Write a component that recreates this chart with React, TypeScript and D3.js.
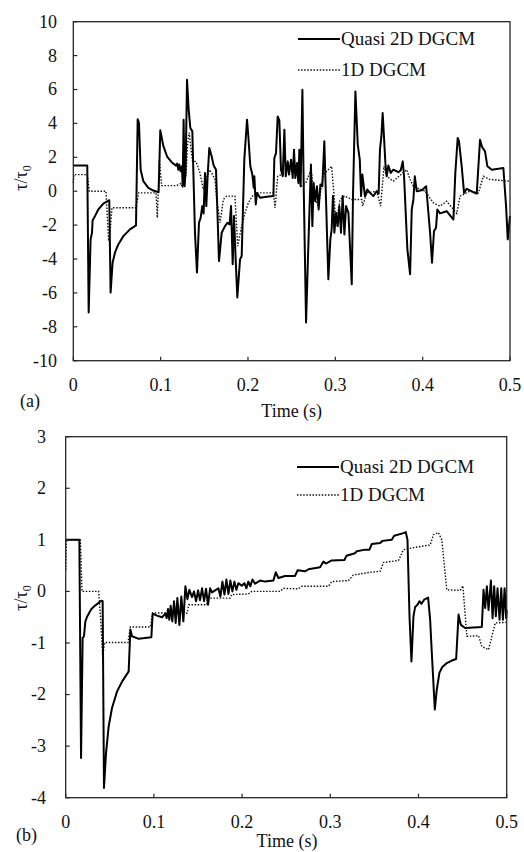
import React from "react";
import * as d3 from "d3";

// ---------- DATA ----------
const xTicks = [0, 0.1, 0.2, 0.3, 0.4, 0.5];
const topYTicks = [-10, -8, -6, -4, -2, 0, 2, 4, 6, 8, 10];
const bottomYTicks = [-4, -3, -2, -1, 0, 1, 2, 3];
const seriesNames = ["Quasi 2D DGCM", "1D DGCM"];

// (a) Quasi 2D DGCM  [time (s), tau/tau0]
const topQuasi2D: [number, number][] = [
  [0, 1.51], [0.016, 1.51], [0.0176, -7.16], [0.0198, -2.84], [0.0214, -2.45], [0.0221, -1.73],
  [0.0248, -1.47], [0.0286, -1.08], [0.0344, -0.73], [0.0412, -0.53], [0.0427, -5.98], [0.045, -4.22],
  [0.0477, -3.63], [0.0515, -3.14], [0.0573, -2.65], [0.0649, -2.25], [0.0718, -2.02], [0.0737, 4.25],
  [0.0752, 4.02], [0.0771, 1.27], [0.0802, 0.59], [0.0859, 0.2], [0.0916, 0.04], [0.0977, -0.06],
  [0.0996, 3.59], [0.103, 2.69], [0.1076, 2.02], [0.1126, 1.71], [0.1176, 1.51], [0.119, 1.63],
  [0.1202, 1.27], [0.1214, 1.57], [0.1229, 1.18], [0.1244, 1.47], [0.1252, 0.33], [0.1263, 4.22],
  [0.1275, 0.29], [0.1286, 1.27], [0.1302, 6.57], [0.1321, 4.8], [0.134, 3.73], [0.1363, 3.53],
  [0.1374, 1.27], [0.1393, -2.45], [0.1416, -4.8], [0.1439, -1.86], [0.1458, -1.57], [0.1477, -0.88],
  [0.1492, -1.31], [0.1508, 1.08], [0.1523, -0.88], [0.1538, 0.88], [0.1557, 2.55], [0.1584, 2.06],
  [0.1607, 1.51], [0.1634, 1.27], [0.1656, -2.16], [0.1668, -4.12], [0.1699, -2.45], [0.1737, -2.06],
  [0.1767, -1.86], [0.179, -1.96], [0.1806, -0.88], [0.1825, -4.31], [0.184, -1.47], [0.1859, -4.02],
  [0.1878, -6.27], [0.1909, -4.02], [0.1928, -3.82], [0.1958, 1.86], [0.1989, 4.22], [0.2004, 3.24],
  [0.2027, 1.47], [0.205, 0.98], [0.2066, 0.2], [0.2073, 0.88], [0.2089, -0.78], [0.2104, -0.1],
  [0.2138, -0.39], [0.2214, -0.33], [0.2291, -0.29], [0.2302, 1.96], [0.2321, 2.25], [0.234, 4.41],
  [0.2359, 4.18], [0.2378, 1.27], [0.2398, 0.88], [0.2417, 3.63], [0.2432, 0.88], [0.2455, 1.76],
  [0.247, 0.98], [0.2493, 1.86], [0.2512, 0.78], [0.2527, 2.45], [0.2542, 0.78], [0.2562, 1.67],
  [0.2577, 0.49], [0.2588, 2.45], [0.2603, 0.29], [0.2623, 5.98], [0.2638, 0.29], [0.2665, -7.75],
  [0.2691, -3.24], [0.2721, 1.57], [0.2737, -2.06], [0.2752, 0.49], [0.2771, -0.59], [0.279, 0.29],
  [0.2809, -1.08], [0.2829, 0.39], [0.2851, 0.29], [0.2874, 2.94], [0.2889, 0.29], [0.292, -5.2],
  [0.2943, -2.84], [0.2958, -2.25], [0.2973, -0.29], [0.2989, -2.45], [0.3008, -1.27], [0.3027, -2.06],
  [0.3046, -0.88], [0.3065, -2.45], [0.3084, -0.29], [0.3104, -2.55], [0.3123, -0.88], [0.315, -1.27],
  [0.3188, -5.49], [0.3203, -0.1], [0.323, 5.88], [0.3257, 2.75], [0.328, 1.86], [0.3295, -0.29],
  [0.331, 0.98], [0.3339, -0.29], [0.3366, 0.1], [0.3397, -0.1], [0.3435, -0.29], [0.3473, 0],
  [0.3496, -0.14], [0.3511, 2.45], [0.3527, 3.2], [0.3542, 4.61], [0.3557, 3.24], [0.3573, 1.67],
  [0.3588, 0.88], [0.3607, 1.51], [0.3634, 1.08], [0.3664, 1.27], [0.3722, 1.12], [0.3749, 1.24],
  [0.3772, 1.76], [0.3787, 0.88], [0.3825, -3.43], [0.3856, -4.9], [0.3875, -1.08], [0.3894, -0.49],
  [0.391, 0.88], [0.3932, 0], [0.399, 0.06], [0.404, 0.29], [0.4085, -2.45], [0.4107, -4.22],
  [0.413, -2.35], [0.4153, -2.16], [0.4168, -1.08], [0.4199, -1.31], [0.4275, -1.18], [0.4352, -1.67],
  [0.4374, 1.08], [0.4401, 3.14], [0.4416, 2.94], [0.4447, 1.47], [0.4474, -0.1], [0.4504, 0.14],
  [0.4581, -0.06], [0.4619, -0.14], [0.4657, 3.04], [0.468, 2.61], [0.4714, 2.35], [0.4741, 1.47],
  [0.4791, 1.27], [0.4848, 1.31], [0.4924, 1.37], [0.4955, -0.88], [0.4974, -2.84], [0.5, -1.47],
];

// (a) 1D DGCM
const top1D: [number, number][] = [
  [0, 0.49], [0.0008, 0.98], [0.016, 0.98], [0.0183, 0], [0.0374, 0], [0.0389, -1.47], [0.0405, -2.94],
  [0.042, -2.45], [0.0443, -0.98], [0.0718, -0.98], [0.0748, -0.1], [0.0947, -0.1], [0.0962, -1.57],
  [0.0985, 1.86], [0.1011, 0.33], [0.1183, 0.33], [0.1233, 0.45], [0.1252, 0.2], [0.1271, 1.27],
  [0.129, 0.88], [0.1309, 2.84], [0.1328, 3.45], [0.1344, 2.65], [0.1366, 1.76], [0.1405, 1.76],
  [0.145, 1.08], [0.1489, 0.1], [0.1519, 0.69], [0.1557, 1.27], [0.1595, 0.98], [0.1622, 0.69],
  [0.1642, -0.49], [0.168, -1.86], [0.1718, -0.49], [0.1756, -0.29], [0.1851, -0.29], [0.1882, -3.24],
  [0.1928, -2.06], [0.1966, -1.27], [0.2004, -0.69], [0.205, -0.29], [0.21, -0.1], [0.2291, -0.1],
  [0.231, -0.98], [0.234, 0.88], [0.2424, 1.08], [0.2539, 1.27], [0.2608, 0.29], [0.2661, 0.49],
  [0.2722, 1.27], [0.2768, -0.49], [0.2806, -0.88], [0.2863, 0.98], [0.2958, 1.47], [0.2989, -0.49],
  [0.3004, -2.06], [0.3054, -0.49], [0.311, -0.29], [0.3187, -0.49], [0.3302, -0.49], [0.3313, -0.88],
  [0.336, -0.1], [0.3473, 0], [0.3519, -0.88], [0.3557, 1.47], [0.3588, 0.88], [0.3664, 0.59],
  [0.3817, 1.27], [0.3856, 0.69], [0.3894, 0.29], [0.4027, 0], [0.4123, -0.69], [0.4199, -0.88],
  [0.4275, -0.59], [0.439, -1.31], [0.4428, -0.29], [0.4543, 0], [0.4638, -0.1], [0.4695, 0.88],
  [0.477, 0.69], [0.5, 0.59],
];

// (b) Quasi 2D DGCM
const bottomQuasi2D: [number, number][] = [
  [0, 1.0], [0.0155, 1.0], [0.0174, -3.23], [0.0192, -0.9], [0.0207, -0.87], [0.0223, -0.58],
  [0.0245, -0.48], [0.0291, -0.34], [0.0336, -0.27], [0.0404, -0.18], [0.0419, -0.19], [0.0434, -3.81],
  [0.0457, -3.14], [0.0487, -2.62], [0.0525, -2.26], [0.0582, -1.94], [0.0639, -1.75], [0.0714, -1.55],
  [0.0733, -0.74], [0.0752, -0.87], [0.0828, -0.92], [0.0922, -0.9], [0.0971, -0.89], [0.0986, -0.43],
  [0.1035, -0.47], [0.1092, -0.5], [0.113, -0.43], [0.1145, -0.52], [0.116, -0.34], [0.1175, -0.55],
  [0.119, -0.28], [0.1209, -0.58], [0.1228, -0.19], [0.1247, -0.61], [0.1266, -0.13], [0.1289, -0.65],
  [0.1311, -0.1], [0.1334, -0.58], [0.1357, 0.1], [0.138, -0.15], [0.1402, 0.03], [0.1432, -0.11],
  [0.1455, 0], [0.1478, -0.19], [0.1501, 0.02], [0.1523, -0.17], [0.1546, 0.06], [0.1569, -0.19],
  [0.1591, 0.05], [0.1614, -0.26], [0.1637, 0.06], [0.1659, -0.02], [0.1694, 0.02], [0.1731, 0.06],
  [0.1754, -0.1], [0.1777, 0.19], [0.18, -0.06], [0.1822, 0.23], [0.1845, -0.05], [0.1867, 0.21],
  [0.189, 0], [0.1913, 0.19], [0.1935, 0.03], [0.1958, 0.16], [0.1996, 0.11], [0.2026, 0.16],
  [0.2049, 0.06], [0.2071, 0.19], [0.2094, 0.1], [0.2117, 0.23], [0.2147, 0.15], [0.2204, 0.21],
  [0.226, 0.19], [0.2355, 0.21], [0.2382, 0.37], [0.2412, 0.26], [0.2487, 0.3], [0.26, 0.3],
  [0.263, 0.41], [0.2714, 0.39], [0.2752, 0.43], [0.2884, 0.47], [0.2922, 0.58], [0.2949, 0.54],
  [0.3016, 0.6], [0.316, 0.61], [0.3183, 0.69], [0.328, 0.74], [0.3301, 0.78], [0.3395, 0.81],
  [0.3444, 0.81], [0.3471, 0.92], [0.3565, 0.94], [0.3592, 0.98], [0.3697, 1.0], [0.3724, 1.08],
  [0.383, 1.13], [0.3856, 1.15], [0.3875, 1.0], [0.3898, -0.48], [0.392, -1.36], [0.3943, -0.48],
  [0.3962, -0.3], [0.3988, -0.26], [0.4011, -0.19], [0.4034, -0.24], [0.4064, -0.16], [0.4109, -0.12],
  [0.4132, -0.55], [0.415, -1.16], [0.4185, -2.29], [0.4207, -1.91], [0.4237, -1.58], [0.4268, -1.47],
  [0.4321, -1.39], [0.4378, -1.34], [0.4427, -1.31], [0.4454, -0.45], [0.448, -0.65], [0.4529, -0.71],
  [0.4718, -0.69], [0.4737, 0.03], [0.4756, -0.32], [0.4775, 0.1], [0.4794, -0.36], [0.4821, 0.21],
  [0.484, -0.52], [0.4858, 0.1], [0.4877, -0.48], [0.4896, 0.06], [0.4919, -0.55], [0.4938, 0.06],
  [0.4957, -0.55], [0.4976, 0.06], [0.4994, -0.52], [0.5, -0.36],
];

// (b) 1D DGCM
const bottom1D: [number, number][] = [
  [0, 0.42], [0.0008, 1.0], [0.0166, 1.0], [0.0185, 0], [0.0374, 0], [0.0397, -0.55], [0.0419, -1.26],
  [0.0442, -0.99], [0.0707, -0.99], [0.0733, -0.69], [0.096, -0.69], [0.0986, -0.42], [0.1376, -0.42],
  [0.1395, -0.26], [0.16, -0.26], [0.161, -0.13], [0.1864, -0.13], [0.1883, -0.06], [0.2071, -0.05],
  [0.2109, 0], [0.2431, 0], [0.2468, 0.06], [0.2638, 0.05], [0.2676, 0.1], [0.2979, 0.1],
  [0.3016, 0.19], [0.3206, 0.21], [0.3262, 0.32], [0.334, 0.34], [0.3452, 0.37], [0.3565, 0.39],
  [0.3603, 0.56], [0.3773, 0.6], [0.383, 0.81], [0.398, 0.86], [0.4132, 0.9], [0.417, 1.1],
  [0.4226, 1.14], [0.4264, 1.0], [0.4321, 0.03], [0.4472, 0.02], [0.4503, 0.11], [0.4548, -0.87],
  [0.4681, -0.86], [0.4718, -1.07], [0.4794, -1.13], [0.4832, -0.87], [0.487, -0.61], [0.5, -0.6],
];

// ---------- LAYOUT ----------
const FONT = "'Liberation Serif', 'Times New Roman', serif";

type PanelProps = {
  left: number; right: number; top: number; bottom: number;
  yDomain: [number, number]; yTicks: number[];
  solid: [number, number][]; dotted: [number, number][];
  letter: string; letterX: number; letterY: number;
  titleY: number; titleX: number;
  yLabelX: number; yLabelY: number;
  yLabelRight: number;
  legendX: number; legendY1: number; legendY2: number;
};

function Panel(p: PanelProps) {
  const x = d3.scaleLinear().domain([0, 0.5]).range([p.left, p.right]);
  const y = d3.scaleLinear().domain(p.yDomain).range([p.bottom, p.top]);
  const line = d3.line<[number, number]>().x((d) => x(d[0])).y((d) => y(d[1]));
  const axisColor = "#262626";
  return (
    <g fontFamily={FONT} fill="#111">
      {/* data */}
      <path d={line(p.dotted) || ""} fill="none" stroke="#111" strokeWidth={1.4}
        strokeDasharray="1.5 1.6" />
      <path d={line(p.solid) || ""} fill="none" stroke="#000" strokeWidth={2}
        strokeLinejoin="round" />
      {/* frame */}
      <rect x={p.left} y={p.top} width={p.right - p.left} height={p.bottom - p.top}
        fill="none" stroke={axisColor} strokeWidth={1.3} />
      {/* x ticks */}
      {xTicks.map((t) => (
        <g key={"x" + t}>
          <line x1={x(t)} x2={x(t)} y1={p.bottom} y2={p.bottom - 4} stroke={axisColor} strokeWidth={1.2} />
          <text x={x(t)} y={p.bottom + 30} fontSize={18} textAnchor="middle">{String(t)}</text>
        </g>
      ))}
      {/* y ticks */}
      {p.yTicks.map((v) => (
        <g key={"y" + v}>
          <line x1={p.left} x2={p.left + 4} y1={y(v)} y2={y(v)} stroke={axisColor} strokeWidth={1.2} />
          <text x={p.yLabelRight} y={y(v)} dy="0.33em" fontSize={18} textAnchor="end">{String(v)}</text>
        </g>
      ))}
      {/* axis titles */}
      <text x={p.titleX} y={p.titleY} fontSize={18} textAnchor="middle">Time (s)</text>
      <text x={p.letterX} y={p.letterY} fontSize={18} textAnchor="start">{p.letter}</text>
      <text transform={`translate(${p.yLabelX},${p.yLabelY}) rotate(-90)`} fontSize={18} textAnchor="middle">
        τ/τ<tspan fontSize={12} dy="4">0</tspan>
      </text>
      {/* legend */}
      <line x1={p.legendX} x2={p.legendX + 42} y1={p.legendY1} y2={p.legendY1} stroke="#000" strokeWidth={2} />
      <text x={p.legendX + 43} y={p.legendY1} dy="0.33em" fontSize={19}>{seriesNames[0]}</text>
      <line x1={p.legendX} x2={p.legendX + 42} y1={p.legendY2} y2={p.legendY2} stroke="#111" strokeWidth={1.4}
        strokeDasharray="1.5 1.6" />
      <text x={p.legendX + 43} y={p.legendY2} dy="0.33em" fontSize={19}>{seriesNames[1]}</text>
    </g>
  );
}

export default function App() {
  return (
    <svg width={524} height={852} style={{ position: "absolute", left: 0, top: 0, background: "#fff" }}>
      <rect x={0} y={0} width={524} height={852} fill="#fff" />
      <Panel left={73.3} right={510} top={21.7} bottom={360.7} yDomain={[-10, 10]} yTicks={topYTicks}
        solid={topQuasi2D} dotted={top1D} letter="(a)" letterX={20} letterY={407}
        titleX={291.7} titleY={417} yLabelX={27} yLabelY={178} yLabelRight={57}
        legendX={298} legendY1={39} legendY2={70} />
      <Panel left={65.7} right={506.7} top={436.7} bottom={797.7} yDomain={[-4, 3]} yTicks={bottomYTicks}
        solid={bottomQuasi2D} dotted={bottom1D} letter="(b)" letterX={16} letterY={841}
        titleX={287} titleY={847} yLabelX={27} yLabelY={598} yLabelRight={46}
        legendX={297} legendY1={467} legendY2={495} />
    </svg>
  );
}
